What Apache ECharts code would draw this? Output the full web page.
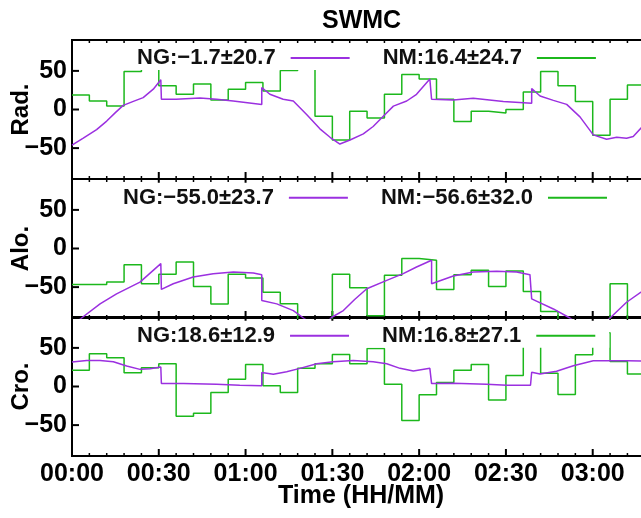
<!DOCTYPE html>
<html>
<head>
<meta charset="utf-8">
<script src="https://cdn.jsdelivr.net/npm/echarts@6/dist/echarts.min.js"></script>
<style>
html, body { margin: 0; padding: 0; background: #fff; }
#chart { width: 641px; height: 518px; }
</style>
</head>
<body>
<div id="chart"></div>
<script>
var FONT = 'Liberation Sans';
var PURPLE = '#9b30e0';
var GREEN = '#1cb81c';

var panelNames = ['Rad.', 'Alo.', 'Cro.'];
var ngLabels = ['NG:−1.7±20.7', 'NG:−55.0±23.7', 'NG:18.6±12.9'];
var nmLabels = ['NM:16.4±24.7', 'NM:−56.6±32.0', 'NM:16.8±27.1'];
var yTicks = [-50, 0, 50];
var xMajorTicks = [0, 30, 60, 90, 120, 150, 180, 210];

// NM: 6 minute bins (minutes from 00:00)
var nmTime = [0, 6, 12, 18, 24, 30, 36, 42, 48, 54, 60, 66, 72, 78, 84, 90, 96,
  102, 108, 114, 120, 126, 132, 138, 144, 150, 156, 162, 168, 174, 180, 186, 192, 198];
var nmRad = [18.9, 11, 4.4, 49.1, 60, 30.7, 19.7, 32.9, 12.3, 26.3, 35.1, 24.1, 50.4, 62,
  -8.8, -39.5, -2.2, -11, 19.7, 45.2, 39.5, 13.2, -15.4, -2.2, -4.4, 0, 22.8, 49.1, 30.7,
  10.5, -33.3, 13.2, 31.6, 31.6];
var nmAlo = [-46.5, -46.5, -43.5, -20.9, -45.7, -33.5, -17.4, -49.1, -72, -33.5, -38.3,
  -56.5, -71.7, -100, -100, -33.5, -50.9, -87, -34.8, -13, -15.2, -53, -33.9, -28.3, -49.1,
  -29.1, -55.7, -81.7, -100, -100, -100, -45.7, -100, -100];
var nmCro = [20.9, 42.3, 37.2, 17.9, 24.4, 29.5, -38.5, -34.6, -7.7, 9.4, 28.6, 0.9, -7.7,
  23.5, 29.5, 41.5, 29.5, 49.1, 3, -44, -10.7, 5.1, 20.9, 28.6, -17.5, 14.1, 58, 17.1,
  -10.3, 41, 69.7, 32.5, 16.2, 16.2];

// NG, repeated times are the jumps
var ngRadTime = [0, 3.9, 8.5, 12, 14.9, 17.7, 21.2, 24.6, 28.1, 30.7, 30.9, 36, 44.2, 50, 55.7,
  65.6, 65.6, 68.4, 73, 76.5, 81.1, 85.7, 89.2, 92.6, 96.1, 100.7, 104.1, 107.6, 111.1, 115.7,
  119.1, 123.7, 124.3, 131.8, 138.7, 149.1, 158.9, 158.9, 161.8, 166.4, 171, 175.6, 180.2,
  184.8, 188.3, 191.7, 194, 196.7, 199];
var ngRad = [-46, -37, -26, -15, -4.4, 5.3, 10.5, 15.4, 26.3, 38.6, 13.2, 13.2, 14.9, 13.2, 11,
  6.6, 28.5, 19.7, 13.2, 11, -6.6, -25, -36, -44.7, -39.5, -31.6, -22, -8.8, 4.4, 11,
  19.7, 39.5, 13.2, 12.3, 14.5, 10.5, 8, 27.2, 17.5, 11.8, 6.6, -9.6, -32.9,
  -38.6, -36, -37.3, -35, -24, -15];

var ngAloTime = [0, 3.3, 9.7, 15.4, 23.5, 30.7, 30.9, 35, 41.9, 48.8, 55.8, 62.7, 65.6, 65.6,
  70.8, 76.5, 80, 84, 88, 89.8, 93.8, 97.7, 101.9, 108.8, 114.5, 119.1, 124.3, 124.3, 131.8,
  138.7, 146.8, 153.7, 158.3, 158.9, 166.4, 172.1, 176, 182, 186, 191.7, 196.7, 199];
var ngAlo = [-100, -90, -71.7, -58.7, -43.5, -19.6, -53, -45.7, -37, -32.6, -30.4, -31.7, -33.9,
  -67.4, -71.7, -80.4, -90, -100, -96, -89, -80.4, -66, -52.2, -41.3, -32.6, -23.9, -15.2,
  -45.7, -35.7, -30.4, -29.6, -30.4, -33.9, -65.2, -78.3, -90, -100, -102, -90, -69.6, -56.5, -50];

var ngCroTime = [0, 5.1, 9.7, 14.3, 18.9, 23.5, 27, 30.7, 30.9, 38.5, 50, 58, 65.6, 65.6, 69.6,
  74.2, 78.8, 84.6, 90.3, 97.2, 104.1, 108.8, 113.4, 118, 123.7, 124.3, 131.8, 143.3, 150.3,
  158.5, 158.9, 161.8, 167.5, 173.3, 180.2, 186, 192, 199];
var ngCro = [31.6, 33.8, 33.8, 32, 26.5, 22.2, 23, 25.2, 3.8, 3.8, 3, 1.7, 0.9, 18, 15.8,
  19.2, 23.5, 29.5, 32, 33.8, 32, 29.5, 23.5, 20, 23.5, 3.8, 4.3, 3, 1.7,
  1.7, 18.4, 16.2, 19.7, 26.9, 33.3, 33.3, 33.5, 33];

var ngTimes = [ngRadTime, ngAloTime, ngCroTime];
var ngValues = [ngRad, ngAlo, ngCro];
var nmValues = [nmRad, nmAlo, nmCro];

var Y_MIN = -90, Y_MAX = 90;

function pairs(xs, ys) {
  return xs.map(function (x, k) { return [x, ys[k]]; });
}
function hhmm(v) {
  var h = Math.floor(v / 60), m = v % 60;
  return (h < 10 ? '0' : '') + h + ':' + (m < 10 ? '0' : '') + m;
}
function minus(v) {
  return String(v).replace('-', '−');
}

// tick marks on the time axis: [minute, length], 5 minor steps per 30 min
var xTickData = [];
for (var t = 0; t <= 210; t += 6) {
  xTickData.push([t, xMajorTicks.indexOf(t) >= 0 ? 7 : 3]);
}
var yTickData = yTicks.map(function (v) { return [0, v]; });

// inward ticks at the bottom and top edge of a panel
function timeTick(params, api) {
  var t = api.value(0), len = api.value(1);
  var b = api.coord([t, Y_MIN]), tp = api.coord([t, Y_MAX]);
  var style = { stroke: '#000', lineWidth: len > 4 ? 2 : 1.5 };
  return {
    type: 'group',
    children: [
      { type: 'line', shape: { x1: b[0], y1: b[1], x2: b[0], y2: b[1] - len }, style: style },
      { type: 'line', shape: { x1: tp[0], y1: tp[1], x2: tp[0], y2: tp[1] + len }, style: style }
    ]
  };
}
// inward ticks on the left edge
function valueTick(params, api) {
  var p = api.coord([api.value(0), api.value(1)]);
  return {
    type: 'line',
    shape: { x1: p[0], y1: p[1], x2: p[0] + 7, y2: p[1] },
    style: { stroke: '#000', lineWidth: 2 }
  };
}

var gridTops = [40, 179, 317];
var gridH = 139;
var legendLefts = [132, 118, 132];
var legendTops = [43, 182.7, 320.7];

var grids = [], xAxes = [], yAxes = [], series = [], legends = [];

for (var i = 0; i < 3; i++) {
  grids.push({
    left: 72, right: -38.5, top: gridTops[i], height: gridH,
    outerBoundsMode: 'none',
    show: true, borderColor: '#000', borderWidth: 2
  });
  xAxes.push({
    type: 'value', gridIndex: i, min: 0, max: 210, interval: 30,
    axisLine: { show: false, onZero: false },
    axisTick: { show: false },
    splitLine: { show: false },
    axisLabel: {
      show: i === 2, margin: 6, formatter: hhmm,
      fontFamily: FONT, fontSize: 25, fontWeight: 'bold', color: '#000'
    }
  });
  yAxes.push({
    type: 'value', gridIndex: i, min: Y_MIN, max: Y_MAX,
    name: panelNames[i], nameLocation: 'middle', nameGap: 39, nameMoveOverlap: false,
    nameTextStyle: { fontFamily: FONT, fontSize: 24, fontWeight: 'bold', color: '#000' },
    axisLine: { show: false, onZero: false },
    axisTick: { show: false },
    splitLine: { show: false },
    axisLabel: {
      customValues: yTicks.slice(), margin: 5, formatter: minus,
      fontFamily: FONT, fontSize: 25, fontWeight: 'bold', color: '#000'
    }
  });
  series.push({
    type: 'line', name: nmLabels[i], xAxisIndex: i, yAxisIndex: i,
    step: 'end', data: pairs(nmTime, nmValues[i]),
    symbol: 'none', showSymbol: false, clip: true,
    lineStyle: { color: GREEN, width: 1.5 }, itemStyle: { color: GREEN }
  });
  series.push({
    type: 'line', name: ngLabels[i], xAxisIndex: i, yAxisIndex: i,
    data: pairs(ngTimes[i], ngValues[i]),
    symbol: 'none', showSymbol: false, clip: true,
    lineStyle: { color: PURPLE, width: 1.5 }, itemStyle: { color: PURPLE }
  });
  series.push({
    type: 'custom', xAxisIndex: i, yAxisIndex: i, silent: true,
    renderItem: timeTick, data: xTickData, z: 1
  });
  series.push({
    type: 'custom', xAxisIndex: i, yAxisIndex: i, silent: true,
    renderItem: valueTick, data: yTickData, z: 1
  });
  legends.push({
    data: [ngLabels[i], nmLabels[i]],
    left: legendLefts[i], top: legendTops[i],
    orient: 'horizontal', align: 'right', selectedMode: false,
    icon: 'rect', itemWidth: 59, itemHeight: 2, itemGap: 33,
    padding: [4, 14, 1, 5], backgroundColor: '#fff',
    textStyle: {
      fontFamily: FONT, fontSize: 22, fontWeight: 'bold', color: '#111',
      padding: [0, 10, 0, 0]
    }
  });
}

var myChart = echarts.init(document.getElementById('chart'));
myChart.setOption({
  animation: false,
  backgroundColor: '#fff',
  title: [
    { text: 'SWMC', left: 322, top: 9, padding: 0,
      textStyle: { fontFamily: FONT, fontSize: 25, fontWeight: 'bold', color: '#000' } },
    { text: 'Time (HH/MM)', left: 278, top: 484, padding: 0,
      textStyle: { fontFamily: FONT, fontSize: 25, fontWeight: 'bold', color: '#000' } }
  ],
  legend: legends,
  grid: grids,
  xAxis: xAxes,
  yAxis: yAxes,
  series: series
});
</script>
</body>
</html>
